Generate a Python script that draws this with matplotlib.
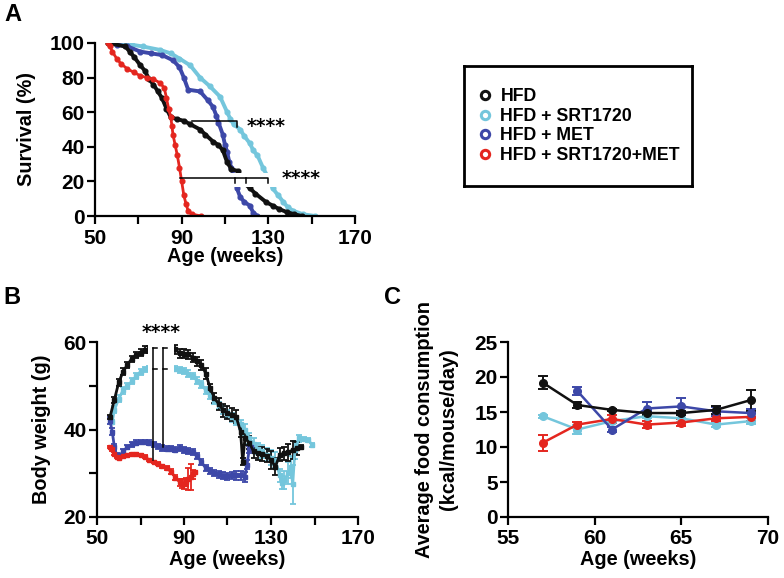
import numpy as np
import matplotlib.pyplot as plt
from matplotlib.lines import Line2D
from matplotlib.patches import Rectangle

plt.rcParams['font.family'] = ['Liberation Sans', 'DejaVu Sans']
plt.rcParams['font.weight'] = 'bold'
plt.rcParams['axes.labelweight'] = 'bold'

# colours / groups
groups = ['HFD', 'HFD + SRT1720', 'HFD + MET', 'HFD + SRT1720+MET']
colors = ['#111111', '#74C6DC', '#3D48A8', '#E4261F']

# ---- panel A: survival (%) vs age (weeks)
surv_wk_hfd = [56, 64, 66, 68, 71, 73, 75, 77, 79, 81, 83, 85, 88, 91, 94, 98.5, 101, 104.5,
               107, 109, 111, 113, 116, 118, 121.5, 124, 129, 132, 135, 138.5, 142, 145.5]
surv_hfd = [100, 98, 95, 92, 87, 84, 79, 76, 72, 68, 62, 57, 56, 55, 53, 50, 47, 43,
            41, 38, 31, 27, 26, 20, 16, 13, 8, 6, 4, 2.3, 1, 0]
surv_wk_srt = [58, 63, 67, 72, 80, 85, 89, 94, 98.5, 103, 107.7, 111, 112.5, 114, 117, 119,
               121.5, 123, 125, 127.5, 130, 132, 134.5, 137, 139, 141.5, 146, 151.5]
surv_srt = [100, 100, 99, 98, 96, 94, 91, 87, 80, 75, 69, 60, 56, 53, 50, 46,
            42, 38, 35, 28, 22, 16, 12, 8, 5, 3, 1, 0]
surv_wk_met = [57, 60, 65, 71, 76, 81, 86, 89, 91, 93, 98.5, 102, 104.5, 106, 107, 109,
               110, 111, 112, 113, 115.5, 117, 119, 121.5, 123, 125]
surv_met = [100, 99, 98, 95, 94, 93, 90, 86, 80, 73, 72, 67, 63, 58, 54, 47,
            41, 37, 31, 28, 16, 11, 8, 6, 2, 0]
surv_wk_comb = [56, 57, 58, 60, 62, 65, 68, 71, 74, 77, 80, 82, 83, 84, 85, 85.5, 86, 87,
                88, 89, 90, 91, 92, 93, 95, 99]
surv_comb = [100, 98, 95, 91, 88, 85, 83, 81, 80, 79, 77, 74, 68, 62, 57, 52, 47, 41,
             35, 28, 20, 12, 7, 3, 1, 0]

# ---- panel B: body weight (g) vs age (weeks)
bw_wk_hfd = [56, 58, 60, 62, 64, 66, 68, 70, 72, 74, 76, 78, 80, 82, 84, 86, 88, 90, 92, 94,
             96, 98, 100, 102, 104, 106, 108, 110, 112, 114, 116, 117, 118, 120, 122, 124,
             126, 128, 130, 132, 134, 136, 138, 140, 142, 144]
bw_hfd = [42.9, 46.8, 50.8, 53.2, 54.8, 56.2, 57.0, 57.6, 58.2, 58.4, 58.5, 58.6, 58.6, 58.6,
          58.5, 58.3, 57.4, 57.3, 57.2, 56.4, 55.6, 54.8, 52.8, 49.5, 47.2, 45.8, 44.4, 43.8,
          43.4, 42.9, 39.5, 32.6, 38.0, 37.0, 35.0, 34.6, 34.4, 34.0, 33.0, 31.5, 34.2, 34.6,
          34.8, 35.3, 35.7, 36.0]
bw_err_hfd = [0.5, 0.7, 0.8, 0.8, 0.7, 0.7, 0.7, 0.7, 0.8, 0.8, 0.8, 0.8, 0.8, 0.8,
              0.9, 1.0, 1.0, 1.0, 1.0, 1.0, 1.0, 1.2, 1.2, 1.0, 1.2, 1.3, 1.5, 1.5,
              1.5, 1.5, 1.2, 0.8, 1.5, 1.5, 1.5, 1.5, 1.5, 1.5, 2.0, 2.0, 1.5, 1.5,
              2.0, 2.0, 1.5, 0.5]
bw_wk_srt = [57, 58, 60, 62, 64, 66, 68, 70, 72, 74, 76, 78, 80, 82, 84, 86, 88, 90, 92, 94,
             96, 98, 100, 102, 104, 106, 108, 110, 112, 114, 116, 118, 120, 122, 124, 126,
             128, 130, 132, 134, 135, 136, 138, 139, 140, 141, 143, 145, 147, 149]
bw_srt = [41.7, 44.5, 47.0, 49.0, 50.0, 51.0, 52.2, 53.2, 53.8, 54.0, 54.0, 54.0, 54.0, 54.0,
          54.0, 53.9, 53.6, 53.4, 52.8, 52.2, 51.2, 50.3, 49.0, 47.8, 46.6, 45.5, 44.4, 43.6,
          42.8, 42.0, 41.2, 40.0, 38.0, 36.8, 35.6, 35.0, 34.2, 33.6, 33.0, 29.5, 27.8, 28.5,
          30.0, 31.4, 27.5, 35.3, 38.0, 37.8, 37.6, 36.5]
bw_err_srt = [0.5, 0.8, 0.8, 0.8, 0.7, 0.7, 0.7, 0.7, 0.6, 0.6, 0.6, 0.6, 0.6, 0.6,
              0.6, 0.6, 0.7, 0.7, 0.7, 0.7, 0.8, 0.8, 0.8, 0.8, 0.8, 0.8, 0.9, 0.9,
              1.0, 1.0, 1.0, 1.2, 1.3, 1.3, 1.3, 1.5, 1.5, 1.8, 1.8, 1.5, 1.5, 2.0,
              2.5, 2.5, 4.5, 2.0, 0.8, 0.5, 0.5, 0.5]
bw_wk_met = [56, 57, 58, 59, 60, 62, 64, 66, 68, 70, 72, 74, 76, 78, 80, 82, 84, 86, 88, 90,
             92, 94, 96, 98, 100, 102, 104, 106, 108, 110, 112, 114, 116, 118, 119, 120, 121]
bw_met = [42.0, 39.5, 36.0, 34.2, 33.8, 35.0, 36.0, 36.6, 37.0, 37.1, 37.1, 37.0, 36.6, 36.2,
          35.8, 35.6, 35.6, 35.4, 35.8, 35.4, 35.0, 34.8, 34.0, 32.5, 31.2, 30.5, 30.0, 29.8,
          29.4, 29.3, 29.5, 29.5, 29.5, 29.2, 32.0, 35.5, 36.0]
bw_err_met = [0.8, 0.8, 0.6, 0.5, 0.5, 0.5, 0.5, 0.5, 0.5, 0.5, 0.5, 0.5, 0.5, 0.6,
              0.6, 0.6, 0.6, 0.6, 0.7, 0.7, 0.7, 0.7, 0.7, 0.7, 0.7, 0.7, 0.7, 0.8,
              0.8, 0.8, 0.9, 1.0, 1.0, 1.2, 1.0, 0.8, 0.5]
bw_wk_comb = [56, 57, 58, 59, 60, 62, 64, 66, 68, 70, 72, 74, 76, 78, 80, 82, 84, 86, 88, 89,
              90, 91, 92, 93, 94, 95]
bw_comb = [36.0, 35.5, 34.5, 33.8, 33.6, 34.0, 34.2, 34.3, 34.3, 34.2, 33.8, 33.0, 32.6, 32.2,
           31.6, 31.2, 30.4, 29.0, 28.0, 27.6, 27.5, 28.0, 28.6, 29.2, 29.8, 30.3]
bw_err_comb = [0.3, 0.3, 0.3, 0.3, 0.3, 0.3, 0.3, 0.3, 0.3, 0.3, 0.3, 0.3, 0.3, 0.4,
               0.4, 0.4, 0.5, 0.6, 0.8, 1.0, 1.2, 1.0, 2.5, 3.0, 1.0, 0.3]

# ---- panel C: food consumption (kcal/mouse/day)
fc_wk = [57, 59, 61, 63, 65, 67, 69]
fc_hfd = [19.2, 16.0, 15.3, 14.85, 14.85, 15.3, 16.7]
fc_err_hfd = [0.9, 0.4, 0.2, 0.3, 0.3, 0.6, 1.5]
fc_wk_met = [59, 61, 63, 65, 67, 69]
fc_met = [18.0, 12.5, 15.5, 15.8, 15.1, 14.85]
fc_err_met = [0.6, 0.3, 1.0, 1.2, 0.6, 0.6]
fc_comb = [10.6, 13.2, 14.0, 13.2, 13.5, 14.1, 14.3]
fc_err_comb = [1.1, 0.4, 0.6, 0.5, 0.5, 0.4, 0.6]
fc_srt = [14.4, 12.5, 13.7, 14.4, 14.1, 13.2, 13.7]
fc_err_srt = [0.2, 0.7, 0.3, 0.3, 0.5, 0.4, 0.4]

W, H = 784, 578
fig = plt.figure(figsize=(W / 100, H / 100), dpi=100)


def px_axes(x0, y0, x1, y1):
    return fig.add_axes([x0 / W, 1 - y1 / H, (x1 - x0) / W, (y1 - y0) / H])


def style(ax):
    for s in ['top', 'right']:
        ax.spines[s].set_visible(False)
    for s in ['left', 'bottom']:
        ax.spines[s].set_linewidth(1.6)
    ax.tick_params(which='both', direction='out', width=1.6, length=6, labelsize=15)
    ax.tick_params(axis='y', pad=1.5)
    ax.tick_params(axis='x', pad=3)


# Panel A
axA = px_axes(95, 43, 355, 216)
style(axA)
surv = [(surv_wk_srt, surv_srt, colors[1]), (surv_wk_met, surv_met, colors[2]),
        (surv_wk_hfd, surv_hfd, colors[0]), (surv_wk_comb, surv_comb, colors[3])]
for wk, s, c in surv:
    lw = 2.0 if c == colors[3] else 2.8
    axA.plot(wk, s, color=c, lw=lw, marker='o', ms=3.4, zorder=2)
axA.add_patch(Rectangle((107, 16.5), 30, 8.3, color='white', zorder=3, lw=0))
axA.plot([94.6, 115.7, 115.7], [55.1, 55.1, 51.3], color='black', lw=1.1, zorder=4)
axA.plot([89.2, 130, 130], [22.1, 22.1, 18.9], color='black', lw=1.1, zorder=4)
for xt in [114.6, 119.5]:
    axA.plot([xt, xt], [22.1, 18.9], color='black', lw=1.1, zorder=4)
axA.text(120.2, 51.5, '****', fontsize=13.5, family='DejaVu Sans', fontweight='bold',
         va='center', ha='left')
axA.text(136.3, 21.8, '****', fontsize=13.5, family='DejaVu Sans', fontweight='bold',
         va='center', ha='left')
axA.set_xlim(50, 170)
axA.set_ylim(0, 100)
axA.set_xticks([50, 90, 130, 170])
axA.set_xticks([70, 110, 150], minor=True)
axA.set_yticks([0, 20, 40, 60, 80, 100])
axA.set_xlabel('Age (weeks)', fontsize=14.3, labelpad=0)
axA.set_ylabel('Survival (%)', fontsize=14.3, labelpad=10)

# Legend box
axL = px_axes(464, 66, 692, 186)
axL.set_xticks([])
axL.set_yticks([])
for s in axL.spines.values():
    s.set_linewidth(2)
handles = [Line2D([], [], ls='none', marker='o', ms=6, mfc='white', mec=c, mew=2.2)
           for c in colors]
axL.legend(handles, groups, loc='center left', frameon=False,
           handlelength=0.7, handletextpad=0.5, labelspacing=0.14, borderaxespad=0.45,
           prop={'weight': 'bold', 'size': 12.8})

# Panel B
axB = px_axes(97, 342, 358, 517)
style(axB)
bw = [(bw_wk_srt, bw_srt, bw_err_srt, colors[1]), (bw_wk_met, bw_met, bw_err_met, colors[2]),
      (bw_wk_comb, bw_comb, bw_err_comb, colors[3]), (bw_wk_hfd, bw_hfd, bw_err_hfd, colors[0])]
for wk, v, e, c in bw:
    axB.errorbar(wk, v, yerr=e, color=c, lw=2.0, marker='s', ms=2.8, capsize=2.5,
                 elinewidth=1.3, capthick=1.3, zorder=2)
axB.add_patch(Rectangle((73.5, 47), 12.0, 15, color='white', zorder=3, lw=0))
for xb, ylow in [(75.7, 33.0), (80.3, 36.0)]:
    axB.plot([xb, xb], [58.6, ylow], color='black', lw=1.1, zorder=4)
    axB.plot([xb, xb + 1.8], [58.6, 58.6], color='black', lw=1.1, zorder=4)
    axB.plot([xb, xb + 1.8], [53.8, 53.8], color='black', lw=1.1, zorder=4)
axB.text(70.6, 62.2, '****', fontsize=13.5, family='DejaVu Sans', fontweight='bold',
         va='center', ha='left', clip_on=False)
axB.set_xlim(50, 170)
axB.set_ylim(20, 60)
axB.set_xticks([50, 90, 130, 170])
axB.set_xticks([70, 110, 150], minor=True)
axB.set_yticks([20, 40, 60])
axB.set_yticks([30, 50], minor=True)
axB.set_xlabel('Age (weeks)', fontsize=14.3, labelpad=1)
axB.set_ylabel('Body weight (g)', fontsize=14.3, labelpad=9)

# Panel C
axC = px_axes(508, 342, 768, 517)
style(axC)
fc = [(fc_wk, fc_srt, fc_err_srt, colors[1]), (fc_wk, fc_comb, fc_err_comb, colors[3]),
      (fc_wk_met, fc_met, fc_err_met, colors[2]), (fc_wk, fc_hfd, fc_err_hfd, colors[0])]
for wk, v, e, c in fc:
    axC.errorbar(wk, v, yerr=e, color=c, lw=1.8, marker='o', ms=5.5, capsize=3.5,
                 elinewidth=1.4, capthick=1.4)
axC.set_xlim(55, 70)
axC.set_ylim(0, 25)
axC.set_xticks([55, 60, 65, 70])
axC.set_yticks([0, 5, 10, 15, 20, 25])
axC.set_xlabel('Age (weeks)', fontsize=14.3, labelpad=1)
axC.set_ylabel('Average food consumption\n(kcal/mouse/day)', fontsize=14.3, labelpad=12,
               linespacing=1.3)

# panel letters
fig.text(4 / W, 1 - 3 / H, 'A', fontsize=17, fontweight='bold', va='top', ha='left')
fig.text(3 / W, 1 - 286 / H, 'B', fontsize=17, fontweight='bold', va='top', ha='left')
fig.text(384 / W, 1 - 286 / H, 'C', fontsize=17, fontweight='bold', va='top', ha='left')

fig.savefig('out.png', dpi=100)
